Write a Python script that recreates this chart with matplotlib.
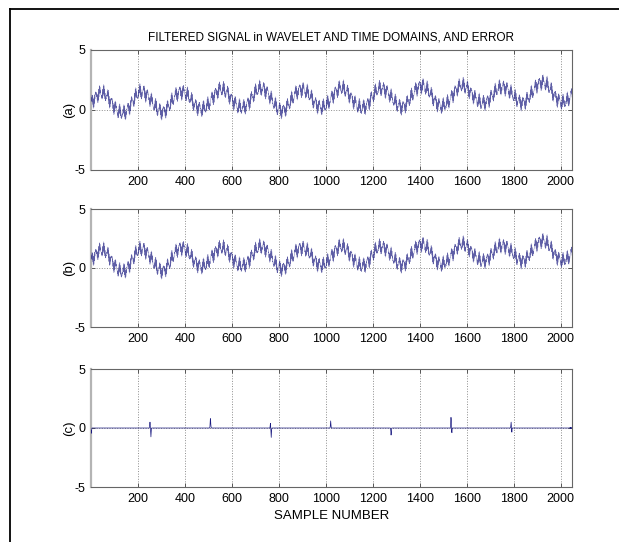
import numpy as np
import matplotlib
matplotlib.use('Agg')
import matplotlib.pyplot as plt
from matplotlib.lines import Line2D

plt.rcParams['font.family'] = ['Liberation Sans', 'DejaVu Sans']

# ---- data ----
n_samples = 2048
ripple_period = 17.0      # samples per medium wiggle
ripple_amp = 0.35         # half height of the medium wiggle
fast_step = 3.0           # rad per sample of the near-Nyquist jitter that fills the band
fast_amp = 0.4

# turning points of the slow wave (first trough / last peak lie just outside the plot)
peak_x = [46, 216, 384, 555, 726, 897, 1066, 1236, 1407, 1580, 1752, 1920, 2095]
trough_x = [-40, 134, 304, 474, 642, 812, 984, 1154, 1324, 1496, 1668, 1838, 2010]

# band top at each peak, band bottom at each trough
peak_top_a = [2.1, 2.2, 2.2, 2.4, 2.5, 2.4, 2.5, 2.5, 2.7, 2.7, 2.6, 3.0, 3.0]
trough_bot_a = [-0.9, -0.95, -0.8, -0.6, -0.5, -0.7, -0.45, -0.5, -0.4, -0.35, -0.1, -0.05, -0.05]
peak_top_b = [2.2, 2.3, 2.4, 2.4, 2.5, 2.4, 2.5, 2.5, 2.7, 2.7, 2.6, 3.0, 3.0]
trough_bot_b = [-0.9, -1.0, -0.9, -0.55, -0.5, -0.7, -0.45, -0.5, -0.4, -0.35, -0.1, -0.05, -0.05]

# error spikes at the block edges: first sample and values
spike_start = [1, 250, 507, 763, 1019, 1276, 1531, 1787, 2040]
spike_vals = [
    [-0.2, -0.45, -0.3, -0.1],
    [0.1, 0.3, 0.5, 0.3, -0.1, -0.5, -0.75, -0.4, -0.1],
    [0.1, 0.4, 0.8, 0.7, 0.3, 0.1],
    [0.1, 0.3, 0.4, 0.0, -0.4, -0.8, -0.4, -0.1],
    [0.1, 0.4, 0.6, 0.3, 0.1],
    [-0.1, -0.3, -0.6, -0.4, -0.1],
    [0.2, 0.6, 0.9, 0.7, 0.1, -0.3, -0.4, -0.1],
    [0.1, 0.3, 0.5, 0.2, -0.2, -0.35, -0.1],
    [0.05, -0.05, 0.05, -0.05, 0.05],
]

xticks = [200, 400, 600, 800, 1000, 1200, 1400, 1600, 1800, 2000]
yticks = [-5, 0, 5]
ytick_labels = ['-5', '0', '5']

n = np.arange(1, n_samples + 1)
half_band = 0.9 * (ripple_amp + fast_amp)


def slow_part(px, ptop, tx, tbot):
    kx = np.array(px + tx, dtype=float)
    ky = np.array([v - half_band for v in ptop] + [v + half_band for v in tbot])
    order = np.argsort(kx)
    kx, ky = kx[order], ky[order]
    seg = np.searchsorted(kx, n) - 1
    u = (n - kx[seg]) / (kx[seg + 1] - kx[seg])
    return ky[seg] + (ky[seg + 1] - ky[seg]) * (1 - np.cos(np.pi * u)) / 2


wiggle = ripple_amp * np.sin(2 * np.pi * n / ripple_period) + fast_amp * np.sin(fast_step * n)
sig_a = slow_part(peak_x, peak_top_a, trough_x, trough_bot_a) + wiggle
sig_b = slow_part(peak_x, peak_top_b, trough_x, trough_bot_b) + wiggle

err = np.zeros(n_samples)
for s, vals in zip(spike_start, spike_vals):
    err[s - 1:s - 1 + len(vals)] = vals

# ---- figure ----
W, H = 619, 542
fig = plt.figure(figsize=(W / 100, H / 100), dpi=100)
fig.patch.set_facecolor('white')

# frame around the page
fig.add_artist(Line2D([10 / W, 10 / W], [0, 1 - 9 / H], transform=fig.transFigure, color='black', lw=1.3))
fig.add_artist(Line2D([10 / W, 1], [1 - 9 / H, 1 - 9 / H], transform=fig.transFigure, color='black', lw=1.3))

left, width = 91 / W, 481 / W
boxes = [(50, 170), (209, 327), (369, 487)]
series = [sig_a, sig_b, err]
labels = ['(a)', '(b)', '(c)']
line_col = '#1a1a80'

axes = []
for i, ((top, bot), y, lab) in enumerate(zip(boxes, series, labels)):
    ax = fig.add_axes([left, 1 - bot / H, width, (bot - top) / H])
    ax.plot(n, y, color=line_col, lw=0.5 if i == 2 else 0.3, alpha=1.0 if i == 2 else 0.7, zorder=3)
    ax.set_xlim(1, n_samples)
    ax.set_ylim(-5, 5)
    ax.set_xticks(xticks)
    ax.set_yticks(yticks)
    ax.set_yticklabels(ytick_labels)
    ax.grid(True, linestyle=':', color='#8c8c8c', lw=0.7)
    ax.tick_params(direction='in', top=True, right=True, length=3, width=0.7,
                   labelsize=9, color='#555555', labelcolor='black', pad=4)
    for side in ['top', 'right', 'bottom']:
        ax.spines[side].set_color('#666666')
        ax.spines[side].set_linewidth(0.8)
    ax.spines['left'].set_color('#b4b4b4')
    ax.spines['left'].set_linewidth(1.6)
    ax.set_ylabel(lab, fontsize=9.5)
    ax.yaxis.set_label_coords(-0.033, 0.5)
    axes.append(ax)

axes[0].set_title('FILTERED SIGNAL in WAVELET AND TIME DOMAINS, AND ERROR', fontsize=8.5, pad=7)
axes[2].set_xlabel('SAMPLE NUMBER', fontsize=9.5, labelpad=4)

fig.savefig('out.png', dpi=100)
